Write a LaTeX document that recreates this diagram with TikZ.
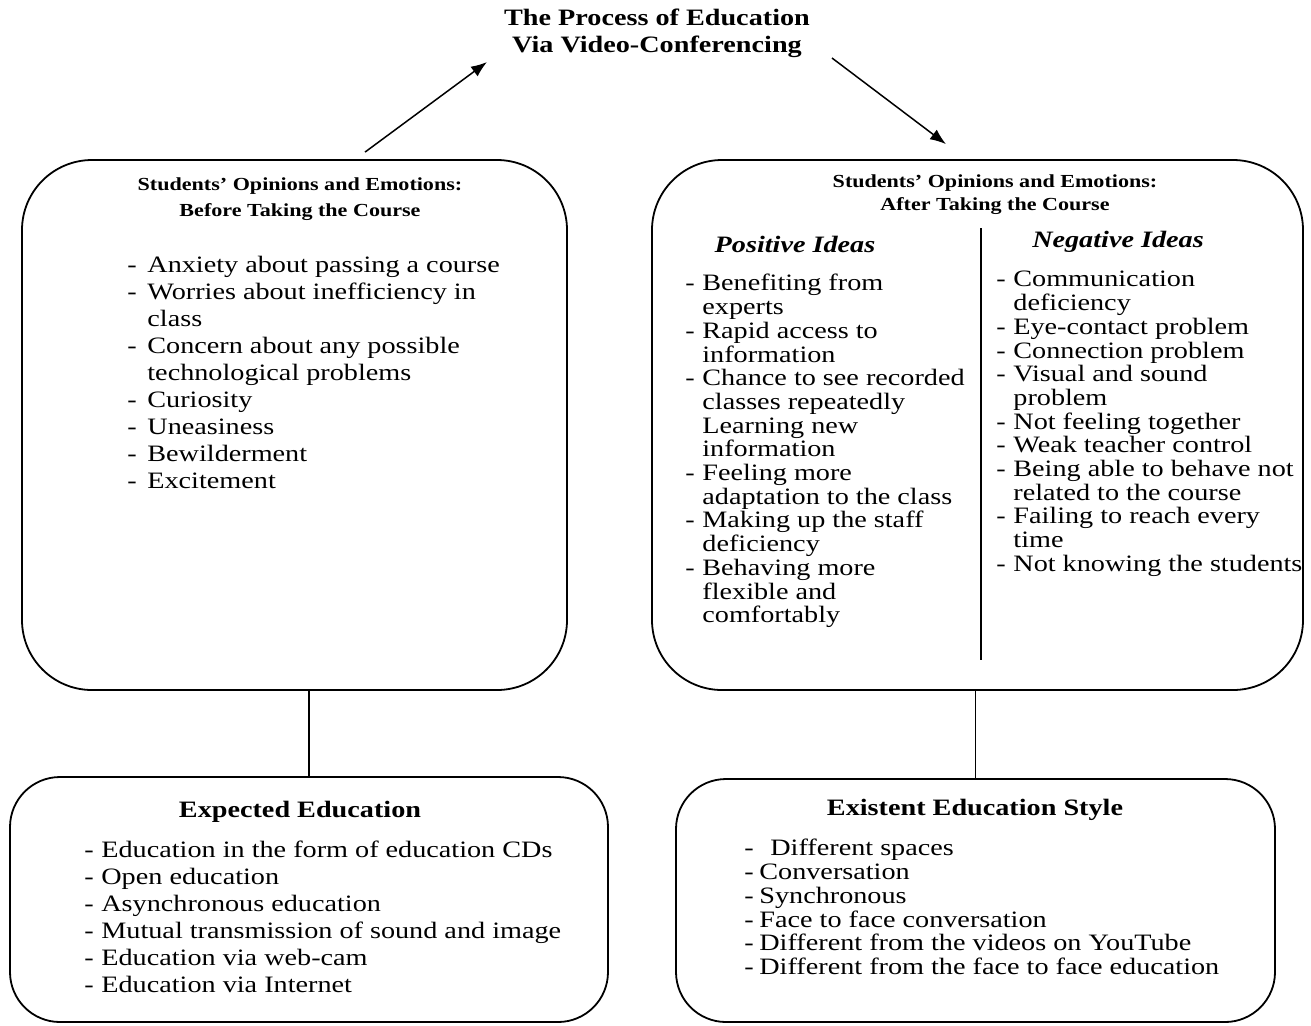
\documentclass[tikz,border=0pt]{standalone}
\usepackage{fontspec}
\setmainfont{Liberation Serif}[FakeStretch=1.2]
\usepackage{tikz}
\usetikzlibrary{positioning,arrows.meta}
\newlength{\dashw}
\newcommand{\li}{\makebox[\dashw][l]{-}}
\newcommand{\lc}{\hspace*{\dashw}}

\begin{document}
\begin{tikzpicture}[
  x=0.5pt, y=-0.5pt,
  every node/.style={align=center},
  title/.style={font=\fontsize{11.75}{13.5}\selectfont\bfseries, inner sep=0pt},
  head/.style={font=\fontsize{9.2}{13}\selectfont\bfseries, inner sep=0pt},
  subhead/.style={font=\fontsize{11.75}{13.5}\selectfont\bfseries\itshape, inner sep=0pt},
  bigbox/.style={draw, line width=0.9pt, rounded corners=35pt},
  smallbox/.style={draw, line width=0.9pt, rounded corners=25pt},
  list/.style={anchor=north west, align=left, inner sep=0pt, font=\fontsize{11.75}{13.5}\selectfont},
  tight/.style={font=\fontsize{11.75}{11.85}\selectfont},
  dashgap/.style={execute at begin node={\setlength{\dashw}{#1}}},
  flow/.style={-{Latex[length=8pt,width=6pt]}, line width=0.75pt},
  link/.style={line width=0.75pt},
]
\useasboundingbox (0,0) rectangle (1311,1025);
% title
\node[title] (title) at (657,33) {The Process of Education\\Via Video-Conferencing};
% before the course
\node[bigbox, minimum width=272.5pt, minimum height=265pt] (before) at (294.5,425) {};
\node[head] (beforehead) at (300,199) {Students’ Opinions and Emotions:\\Before Taking the Course};
\node[list, dashgap=10pt] (beforelist) at (127,256) {%
  \li Anxiety about passing a course\\
  \li Worries about inefficiency in\\
  \lc class\\
  \li Concern about any possible\\
  \lc technological problems\\
  \li Curiosity\\
  \li Uneasiness\\
  \li Bewilderment\\
  \li Excitement};
% after the course
\node[bigbox, minimum width=325.5pt, minimum height=265pt] (after) at (977.5,425) {};
\node[head, font=\fontsize{9.2}{11.5}\selectfont\bfseries] (afterhead) at (995,195) {Students’ Opinions and Emotions:\\After Taking the Course};
\node[subhead] (pos) at (795,244) {Positive Ideas};
\node[subhead] (neg) at (1118,242) {Negative Ideas};
\draw[link] (981,228) -- (981,660);
\node[list, tight, dashgap=8.5pt] (poslist) at (685,274) {%
  \li Benefiting from\\
  \lc experts\\
  \li Rapid access to\\
  \lc information\\
  \li Chance to see recorded\\
  \lc classes repeatedly\\
  \lc Learning new\\
  \lc information\\
  \li Feeling more\\
  \lc adaptation to the class\\
  \li Making up the staff\\
  \lc deficiency\\
  \li Behaving more\\
  \lc flexible and\\
  \lc comfortably};
\node[list, tight, dashgap=8.5pt] (neglist) at (996,271) {%
  \li Communication\\
  \lc deficiency\\
  \li Eye-contact problem\\
  \li Connection problem\\
  \li Visual and sound\\
  \lc problem\\
  \li Not feeling together\\
  \li Weak teacher control\\
  \li Being able to behave not\\
  \lc related to the course\\
  \li Failing to reach every\\
  \lc time\\
  \li Not knowing the students};
% expected education
\node[smallbox, minimum width=299pt, minimum height=122.5pt] (expected) at (309,899.5) {};
\node[title] (expectedhead) at (300,812) {Expected Education};
\node[list, dashgap=8.5pt] (expectedlist) at (84,841) {%
  \li Education in the form of education CDs\\
  \li Open education\\
  \li Asynchronous education\\
  \li Mutual transmission of sound and image\\
  \li Education via web-cam\\
  \li Education via Internet};
% existent education
\node[smallbox, minimum width=299.5pt, minimum height=121.5pt] (existent) at (975.5,900.5) {};
\node[title] (existenthead) at (975,810) {Existent Education Style};
\node[list, tight, dashgap=7.5pt] (existentlist) at (744,839) {%
  \li\hspace*{5.5pt}Different spaces\\
  \li Conversation\\
  \li Synchronous\\
  \li Face to face conversation\\
  \li Different from the videos on YouTube\\
  \li Different from the face to face education};
% connectors
\coordinate (up) at (487,62);
\coordinate (down) at (832,58);
\draw[flow] ([shift={(70.5,-7)}]before.north) -- (up);
\draw[flow] (down) -- ([shift={(-31.5,-15)}]after.north);
\draw[link] (before.south -| expected.north) -- (expected.north);
\draw[link] (after.south -| existent.north) -- (existent.north);
\end{tikzpicture}
\end{document}
